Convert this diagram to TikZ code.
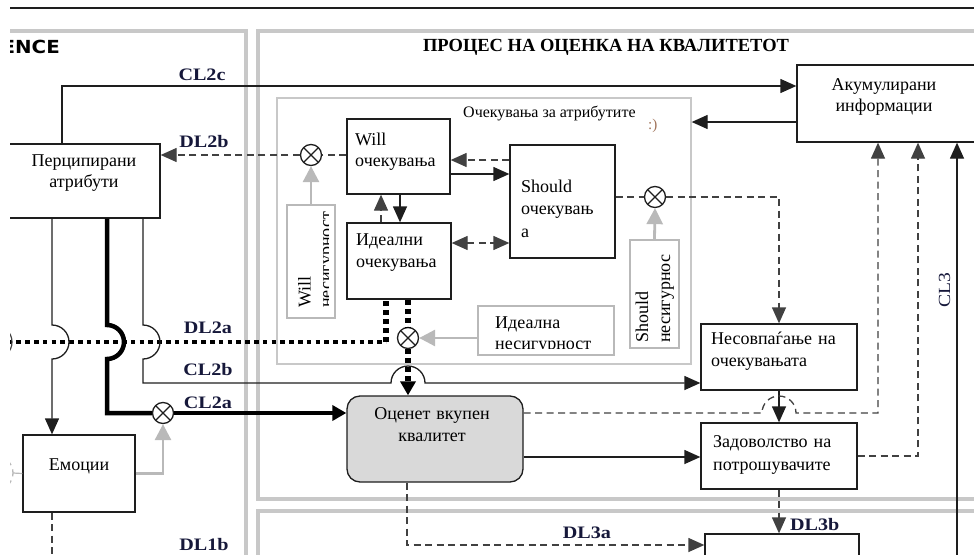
\documentclass[tikz,border=0pt]{standalone}
\usepackage{fontspec}
\setmainfont{Liberation Serif}
\newfontfamily\lblfont[FakeStretch=1.15]{Liberation Serif}
\newfontfamily\headsans[FakeStretch=1.1]{DejaVu Sans}
\usetikzlibrary{arrows.meta,calc}

\definecolor{panelgray}{RGB}{200,200,200}
\definecolor{framegray}{RGB}{200,200,200}
\definecolor{linedark}{RGB}{30,30,30}
\definecolor{dashdark}{RGB}{65,65,65}
\definecolor{labelblue}{RGB}{22,24,58}
\definecolor{feedgray}{RGB}{185,185,185}
\definecolor{evalfill}{RGB}{217,217,217}
\definecolor{smile}{RGB}{160,115,90}

\tikzset{
  panel/.style={draw=panelgray, line width=4pt},
  box/.style={draw=linedark, line width=1.3pt, fill=white, inner sep=0pt},
  softbox/.style={draw=feedgray, line width=2pt, fill=white, inner sep=0pt},
  body/.style={inner sep=0pt, font=\fontsize{18}{21.5}\selectfont},
  lbl/.style={inner sep=0pt, text=labelblue, font=\lblfont\bfseries\fontsize{17.5}{20}\selectfont},
  tip/.style={-{Triangle[length=16pt,width=14pt]}},
  thicktip/.style={-{Triangle[length=14pt,width=15pt]}},
  conn/.style={draw=linedark, line width=1.3pt},
  dconn/.style={draw=dashdark, line width=1.3pt, dash pattern=on 7pt off 4.5pt},
  feed/.style={draw=feedgray, line width=2.8pt, -{Triangle[length=16pt,width=16pt]}},
  heavy/.style={draw=black, line width=4.5pt},
  dotheavy/.style={draw=black, line width=4.5pt, dash pattern=on 4.5pt off 4.3pt},
  dotstem/.style={draw=black, line width=5.5pt, dash pattern=on 5pt off 4pt},
  mult/.style={circle, draw=linedark, line width=1.3pt, fill=white, minimum size=21pt, inner sep=0pt,
    path picture={\draw[linedark, line width=1.3pt]
      (path picture bounding box.north west) -- (path picture bounding box.south east)
      (path picture bounding box.north east) -- (path picture bounding box.south west);}},
}

\begin{document}
\begin{tikzpicture}[x=1pt, y=-1pt]
\useasboundingbox (0,0) rectangle (974,554);
\clip (10,0) rectangle (974,554);

% rule and panel frames
\draw[linedark, line width=1.8pt] (0,8) -- (980,8);
\draw[panel] (-20,31) -- (246,31) -- (246,570);
\draw[panel] (990,31) -- (258,31) -- (258,499) -- (990,499);
\draw[panel] (990,511) -- (258,511) -- (258,570);

% headings
\node[anchor=base east, inner sep=0pt, font=\headsans\bfseries\fontsize{18}{20}\selectfont] (sidehead) at (60,53) {ENCE};
\node[anchor=base, inner sep=0pt, font=\bfseries\fontsize{18.5}{20}\selectfont] (proctitle) at (606,51.5) {ПРОЦЕС НА ОЦЕНКА НА КВАЛИТЕТОТ};

% frame of the attribute expectations
\node[draw=framegray, line width=1.3pt, minimum width=414pt, minimum height=266pt, inner sep=0pt] (inner) at (484,231) {};
\node[anchor=base west, inner sep=0pt, font=\fontsize{16}{18}\selectfont] (innerttl) at (463,117.5) {Очекувања за атрибутите};
\node[anchor=base west, inner sep=0pt, text=smile, font=\fontsize{15}{17}\selectfont] (smiley) at (648,129) {:)};

% boxes
\node[box, minimum width=152pt, minimum height=74pt] (perc) at (84,181) {};
\node[box, minimum width=183pt, minimum height=77pt] (acc) at (888.5,103.5) {};
\node[box, minimum width=103pt, minimum height=75pt] (will) at (398.5,156.5) {};
\node[box, minimum width=105pt, minimum height=113pt] (should) at (562.5,201.5) {};
\node[box, minimum width=104pt, minimum height=76pt] (ideal) at (399,261) {};
\node[box, minimum width=156pt, minimum height=66pt] (mis) at (779,357) {};
\node[box, minimum width=156pt, minimum height=66pt] (sat) at (779,456) {};
\node[box, minimum width=112pt, minimum height=77pt] (emo) at (79,473.5) {};
\node[box, fill=evalfill, rounded corners=13pt, minimum width=176pt, minimum height=86pt] (eval) at (435,439) {};
\node[box, minimum width=154pt, minimum height=66pt] (lower) at (782,567) {};

\node[softbox, minimum width=48pt, minimum height=113pt] (wunc) at (311,261.5) {};
\node[softbox, minimum width=49pt, minimum height=108pt] (sunc) at (654.5,294) {};
\node[softbox, minimum width=136pt, minimum height=49pt] (iunc) at (546,330.5) {};

% box texts
\node[body, anchor=base, text width=146pt, align=center] (perct) at (84,166) {Перципирани\\атрибути};
\node[body, anchor=base, text width=170pt, align=center, font=\fontsize{18}{21}\selectfont] (acct) at (884,90) {Акумулирани\\информации};
\node[body, anchor=base west, text width=95pt, align=left] (willt) at (355,145) {Will\\очекувања};
\node[body, anchor=base west, text width=92pt, align=left, font=\fontsize{18}{22.5}\selectfont] (shouldt) at (521,192) {Should\\очекувањ\\а};
\node[body, anchor=base west, text width=95pt, align=left, font=\fontsize{18}{22}\selectfont] (idealt) at (356,245) {Идеални\\очекувања};
\node[body, anchor=base west, text width=140pt, align=left, font=\fontsize{18}{22}\selectfont] (mist) at (711,344) {Несовпаѓање на\\очекувањата};
\node[body, anchor=base west, text width=140pt, align=left, font=\fontsize{18}{23}\selectfont] (satt) at (713,447) {Задоволство на\\потрошувачите};
\node[body, anchor=base] (emot) at (79,470) {Емоции};
\node[body, anchor=base, text width=170pt, align=center] (evalt) at (432,419.5) {Оценет вкупен\\квалитет};

\begin{scope}
  \clip (wunc.north west) rectangle ($(wunc.south east)+(-8,0)$);
  \node[body, rotate=90, anchor=base west, text width=110pt, align=left, font=\fontsize{18}{21}\selectfont] (wunct) at (310.5,308) {Will\\несигурност};
\end{scope}
\node[body, rotate=90, anchor=base west, text width=100pt, align=left, font=\fontsize{18}{22}\selectfont] (sunct) at (648,343) {Should\\несигурнос};
\begin{scope}
  \clip (iunc.north west) rectangle ($(iunc.south east)+(0,-8)$);
  \node[body, anchor=base west, text width=125pt, align=left] (iunct) at (495,328) {Идеална\\несигурност};
\end{scope}

% multiplication points
\node[mult] (cx1) at (311,155) {};
\node[mult] (cx2) at (655,197) {};
\node[mult] (cx3) at (408,338) {};
\node[mult] (cx4) at (163,413) {};

% helper coordinates
\coordinate (cl2c) at (62,86);
\coordinate (accout) at (0,122);
\coordinate (wsA) at (0,174);
\coordinate (wsB) at (0,160);
\coordinate (wiA) at (381,0);
\coordinate (wiB) at (400,0);
\coordinate (isA) at (0,243);
\coordinate (dl2a) at (-10,342);
\coordinate (dlA) at (386,0);
\coordinate (dlB) at (408,0);
\coordinate (hopin) at (0,325);
\coordinate (pe) at (52,0);
\coordinate (cl2ax) at (107,0);
\coordinate (cl2bx) at (143,0);
\coordinate (cl2by) at (0,383);
\coordinate (evd) at (0,413);
\coordinate (es) at (0,457);
\coordinate (accA) at (878,0);
\coordinate (accB) at (918,0);
\coordinate (accC) at (957,0);
\coordinate (d3x) at (407,0);
\coordinate (d3y) at (0,545);
\coordinate (bottomedge) at (0,570);

% CL2c
\draw[conn,tip] (perc.north -| cl2c) -- (cl2c) -- (acc.west |- cl2c);
% accumulated information back into the expectations
\draw[conn,tip] (acc.west |- accout) -- (inner.east |- accout);

% DL2b
\draw[dconn] (will.west |- cx1) -- (cx1.east);
\draw[dconn,tip] (cx1.west) -- (perc.east |- cx1);
\draw[feed] (wunc.north) -- (cx1.south);

% will / should / ideal
\draw[conn,tip] (will.east |- wsA) -- (should.west |- wsA);
\draw[dconn,tip] (should.west |- wsB) -- (will.east |- wsB);
\draw[dconn,tip] (ideal.north -| wiA) -- (will.south -| wiA);
\draw[conn,tip] (will.south -| wiB) -- (ideal.north -| wiB);
\draw[dconn,{Triangle[length=16pt,width=14pt]}-{Triangle[length=16pt,width=14pt]}] (ideal.east |- isA) -- (should.west |- isA);

% should -> mismatch
\draw[dconn] (should.east |- cx2) -- (cx2.west);
\draw[dconn,tip] (cx2.east) -| (mis.north);
\draw[feed] (sunc.north) -- (cx2.south);

% DL2a
\draw[dotheavy] (dl2a) -- (dl2a -| dlA);
\draw[dotstem] (dl2a -| dlA) -- (ideal.south -| dlA);
\draw[dotstem] (ideal.south -| dlB) -- (cx3.north);
\draw[dotstem,thicktip] (cx3.south) -- (eval.north -| dlB);
\draw[feed] (iunc.west |- cx3) -- (cx3.east);

% small hops cut by the left margin
\draw[draw=dashdark, line width=1.2pt] (-5,325) arc[start angle=-90,end angle=90,radius=17];
\draw[dconn, draw=feedgray] (-4,456) arc[start angle=-90,end angle=90,radius=17];
\draw[draw=feedgray, line width=1.2pt] (13,473) -- (emo.west);

% perceived attributes -> emotions
\draw[conn,tip] (perc.south -| pe) -- (pe |- hopin) arc[start angle=-90,end angle=90,radius=17] -- (emo.north -| pe);

% CL2a
\draw[heavy] (perc.south -| cl2ax) -- (cl2ax |- hopin) arc[start angle=-90,end angle=90,radius=17] -- (cl2ax |- cx4) -- (cx4.west);
\draw[heavy,thicktip] (cx4.east) -- (eval.west |- cx4);
\draw[feed] (emo.east) -| (cx4.south);
\draw[dconn] (emo.south -| pe) -- (pe |- bottomedge);

% CL2b
\draw[conn,tip] (perc.south -| cl2bx) -- (cl2bx |- hopin) arc[start angle=-90,end angle=90,radius=17]
  -- (cl2bx |- cl2by) -- ($(dlB |- cl2by)+(-17,0)$) arc[start angle=180,end angle=360,radius=17]
  -- (mis.west |- cl2by);

% evaluated quality -> satisfaction and accumulated information
\draw[conn,tip] (eval.east |- es) -- (sat.west |- es);
\draw[conn,tip] (mis.south) -- (sat.north);
\draw[dconn,tip] (eval.east |- evd) -- ($(mis.south |- evd)+(-17,0)$) arc[start angle=180,end angle=360,radius=17]
  -- (accA |- evd) -- (acc.south -| accA);
\draw[dconn,tip] (sat.east) -| (acc.south -| accB);
\draw[conn,tip] (accC |- bottomedge) -- (acc.south -| accC);

% DL3a, DL3b
\draw[dconn,tip] (sat.south) -- (lower.north -| sat.south);
\draw[dconn,tip] (eval.south -| d3x) -- (d3x |- d3y) -- (lower.west |- d3y);

% link labels
\node[lbl, anchor=base] (lcl2c) at (202,80) {CL2c};
\node[lbl, anchor=base] (ldl2b) at (204,147) {DL2b};
\node[lbl, anchor=base] (ldl2a) at (208,333) {DL2a};
\node[lbl, anchor=base] (lcl2b) at (208,375) {CL2b};
\node[lbl, anchor=base] (lcl2a) at (208,408) {CL2a};
\node[lbl, anchor=base] (ldl1b) at (204,550) {DL1b};
\node[lbl, anchor=base] (ldl3a) at (587,538) {DL3a};
\node[lbl, anchor=base west] (ldl3b) at (790,530) {DL3b};
\node[inner sep=0pt, text=labelblue, font=\lblfont\fontsize{17}{20}\selectfont, rotate=90, anchor=base west] (lcl3) at (950,308) {CL3};
\end{tikzpicture}
\end{document}
